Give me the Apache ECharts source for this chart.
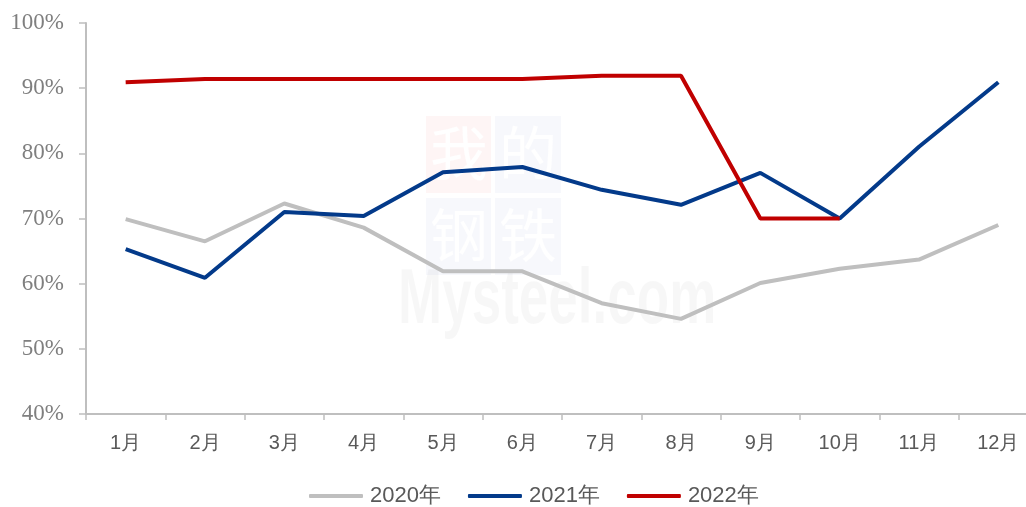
<!DOCTYPE html>
<html>
<head>
<meta charset="utf-8">
<script src="https://cdn.jsdelivr.net/npm/echarts@6/dist/echarts.min.js"></script>
<style>
html, body { margin: 0; padding: 0; background: #fff; }
#main { width: 1026px; height: 507px; }
</style>
</head>
<body>
<div id="main"></div>
<script>
var months = ['1月', '2月', '3月', '4月', '5月', '6月', '7月', '8月', '9月', '10月', '11月', '12月'];
var names = ['2020年', '2021年', '2022年'];
var y2020 = [69.9, 66.5, 72.3, 68.6, 61.9, 61.9, 57.0, 54.6, 60.1, 62.3, 63.7, 69.0];
var y2021 = [65.3, 60.9, 71.0, 70.4, 77.1, 77.9, 74.4, 72.1, 77.0, 70.0, 81.0, 90.9];
var y2022 = [90.9, 91.4, 91.4, 91.4, 91.4, 91.4, 91.9, 91.9, 70.0, 70.0];

var chart = echarts.init(document.getElementById('main'));

// 水印 我的钢铁 Mysteel.com
var wm = [
  { type: 'rect', left: 426, top: 116, shape: { width: 65, height: 77 }, style: { fill: 'rgba(230,60,60,0.05)' } },
  { type: 'rect', left: 495, top: 116, shape: { width: 66, height: 77 }, style: { fill: 'rgba(60,90,180,0.045)' } },
  { type: 'rect', left: 426, top: 198, shape: { width: 65, height: 77 }, style: { fill: 'rgba(60,90,180,0.045)' } },
  { type: 'rect', left: 495, top: 198, shape: { width: 66, height: 77 }, style: { fill: 'rgba(60,90,180,0.045)' } },
  { type: 'text', left: 430, top: 124, style: { text: '我', fontSize: 58, fontFamily: 'Noto Sans CJK SC', fill: 'rgba(255,255,255,0.95)' } },
  { type: 'text', left: 499, top: 124, style: { text: '的', fontSize: 58, fontFamily: 'Noto Sans CJK SC', fill: 'rgba(255,255,255,0.95)' } },
  { type: 'text', left: 430, top: 206, style: { text: '钢', fontSize: 58, fontFamily: 'Noto Sans CJK SC', fill: 'rgba(255,255,255,0.95)' } },
  { type: 'text', left: 499, top: 206, style: { text: '铁', fontSize: 58, fontFamily: 'Noto Sans CJK SC', fill: 'rgba(255,255,255,0.95)' } },
  { type: 'text', x: 398, y: 262, scaleX: 0.68, style: { text: 'Mysteel.com', fontSize: 78, fontWeight: 'bold', fontFamily: 'Liberation Sans', fill: 'rgba(0,0,0,0.03)' } }
];

var option = {
  animation: false,
  graphic: wm,
  grid: { left: 86, width: 952, top: 23, bottom: 93, outerBoundsMode: 'none' },
  legend: {
    top: 480,
    left: 304,
    itemWidth: 54,
    itemHeight: 4,
    itemGap: 27,
    icon: 'roundRect',
    textStyle: { fontSize: 22, color: '#595959', fontFamily: 'Liberation Sans', padding: [0, 0, 0, 2] },
    data: names
  },
  xAxis: {
    type: 'category',
    data: months,
    boundaryGap: true,
    axisLine: { lineStyle: { color: '#bfbfbf', width: 2 } },
    axisTick: { show: true, length: 6, lineStyle: { color: '#bfbfbf', width: 1.5 } },
    axisLabel: { color: '#595959', fontSize: 20, margin: 19, fontFamily: 'Liberation Sans' }
  },
  yAxis: {
    type: 'value',
    min: 40,
    max: 100,
    interval: 10,
    axisLine: { show: true, lineStyle: { color: '#bfbfbf', width: 2 } },
    axisTick: { show: true, length: 7, lineStyle: { color: '#bfbfbf', width: 1.5 } },
    splitLine: { show: false },
    axisLabel: { color: '#7f7f7f', fontSize: 23, margin: 22, fontFamily: 'Liberation Serif', formatter: '{value}%' }
  },
  series: [
    { name: names[0], type: 'line', data: y2020, symbol: 'none', lineStyle: { width: 4, color: '#bfbfbf' }, itemStyle: { color: '#bfbfbf' } },
    { name: names[1], type: 'line', data: y2021, symbol: 'none', lineStyle: { width: 4, color: '#033a8a' }, itemStyle: { color: '#033a8a' } },
    { name: names[2], type: 'line', data: y2022, symbol: 'none', lineStyle: { width: 4, color: '#c00000' }, itemStyle: { color: '#c00000' } }
  ]
};
chart.setOption(option);
</script>
</body>
</html>
